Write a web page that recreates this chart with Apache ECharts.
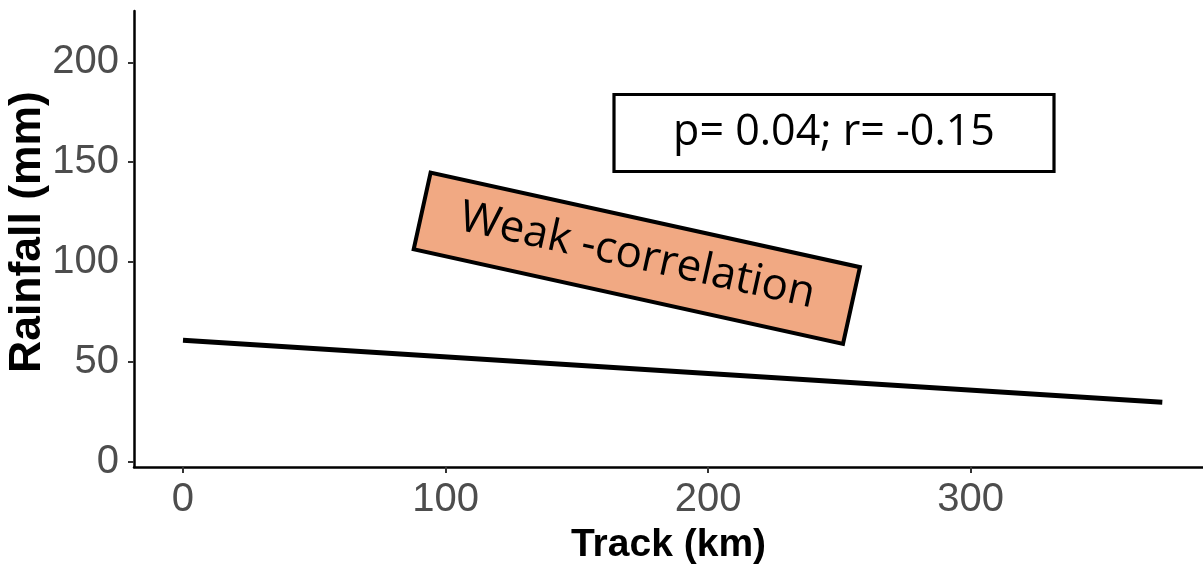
<!DOCTYPE html>
<html>
<head>
<meta charset="utf-8">
<title>Rainfall vs Track</title>
<script src="https://cdn.jsdelivr.net/npm/echarts@6/dist/echarts.min.js"></script>
<style>
  html, body { margin: 0; padding: 0; background: #ffffff; }
  #chart { width: 1203px; height: 570px; }
</style>
</head>
<body>
<div id="chart"></div>
<script>
// Fitted trend: track distance (km) against rainfall (mm)
const trackKm = [0, 373];
const rainfallMm = [60.9, 29.8];

// Tick values shown on each axis
const xTicks = [0, 100, 200, 300];
const yTicks = [0, 50, 100, 150, 200];

// Annotation texts
const statText = 'p= 0.04; r= -0.15';
const noteText = 'Weak -correlation';

const chart = echarts.init(document.getElementById('chart'), null, { renderer: 'canvas' });

const lineData = trackKm.map((x, i) => [x, rainfallMm[i]]);

const tickLabelStyle = {
  fontFamily: '"Liberation Sans", Arial, sans-serif',
  fontSize: 40,
  color: '#4D4D4D'
};

const option = {
  animation: false,
  backgroundColor: '#ffffff',
  grid: {
    left: 134,
    right: 0,
    top: 11,
    bottom: 103,
    containLabel: false,
    outerBoundsMode: 'none'
  },
  xAxis: {
    type: 'value',
    min: -18.65,
    max: 388.5,
    name: 'Track (km)',
    nameLocation: 'middle',
    nameGap: 59,
    nameMoveOverlap: false,
    nameTextStyle: {
      fontFamily: '"Liberation Sans", Arial, sans-serif',
      fontWeight: 'bold',
      fontSize: 39,
      color: '#000000'
    },
    axisLine: { show: true, onZero: false, lineStyle: { color: '#000000', width: 2.5 } },
    axisTick: { show: true, length: 6, customValues: xTicks, lineStyle: { color: '#333333', width: 2 } },
    axisLabel: Object.assign({ customValues: xTicks, margin: 13 }, tickLabelStyle),
    splitLine: { show: false }
  },
  yAxis: {
    type: 'value',
    min: -2.6,
    max: 225.7,
    name: 'Rainfall (mm)',
    nameLocation: 'middle',
    nameGap: 84,
    nameRotate: 90,
    nameMoveOverlap: false,
    nameTextStyle: {
      fontFamily: '"Liberation Sans", Arial, sans-serif',
      fontWeight: 'bold',
      fontSize: 44.5,
      color: '#000000',
      padding: [0, 0, 0, 14]
    },
    axisLine: { show: true, onZero: false, lineStyle: { color: '#000000', width: 2.5 } },
    axisTick: { show: true, length: 6, customValues: yTicks, lineStyle: { color: '#333333', width: 2 } },
    axisLabel: Object.assign({ customValues: yTicks, margin: 15 }, tickLabelStyle),
    splitLine: { show: false }
  },
  series: [
    {
      type: 'line',
      data: lineData,
      symbol: 'none',
      lineStyle: { color: '#000000', width: 5, cap: 'butt' },
      silent: true
    }
  ],
  graphic: [
    {
      type: 'group',
      x: 834,
      y: 133,
      children: [
        {
          type: 'rect',
          shape: { x: -220, y: -38.5, width: 440, height: 77 },
          style: { fill: '#ffffff', stroke: '#000000', lineWidth: 3.2 }
        },
        {
          type: 'text',
          style: {
            x: 0,
            y: 0,
            text: statText,
            align: 'center',
            verticalAlign: 'middle',
            fontFamily: '"Open Sans", Roboto, sans-serif',
            fontSize: 43,
            fill: '#000000'
          }
        }
      ]
    },
    {
      type: 'group',
      x: 636.8,
      y: 258.2,
      rotation: -12.43 * Math.PI / 180,
      children: [
        {
          type: 'rect',
          shape: { x: -219.8, y: -39.3, width: 439.6, height: 78.6 },
          style: { fill: '#F1A983', stroke: '#000000', lineWidth: 4 }
        },
        {
          type: 'text',
          style: {
            x: 0,
            y: -2,
            text: noteText,
            align: 'center',
            verticalAlign: 'middle',
            fontFamily: '"Open Sans", "Noto Sans", sans-serif',
            fontSize: 44,
            fill: '#000000'
          }
        }
      ]
    }
  ]
};

chart.setOption(option);
</script>
</body>
</html>
